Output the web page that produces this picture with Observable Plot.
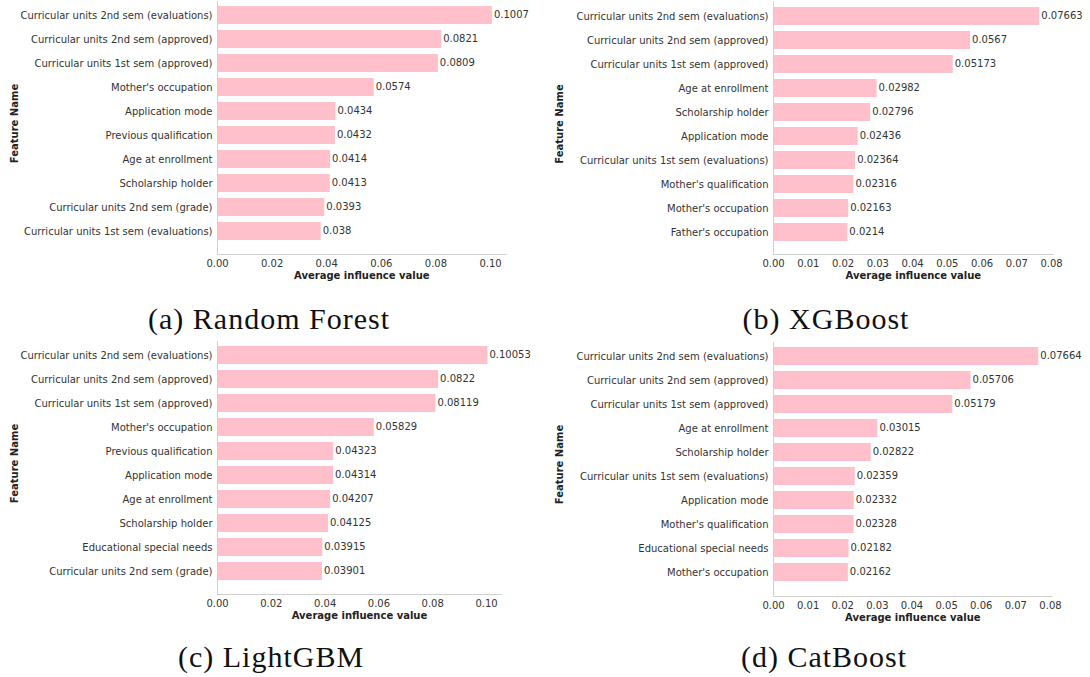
<!DOCTYPE html>
<html><head><meta charset="utf-8">
<script src="https://cdn.jsdelivr.net/npm/d3@7"></script>
<script src="https://cdn.jsdelivr.net/npm/@observablehq/plot@0.6"></script>
<style>
body{margin:0;background:#fff;}
#wrap{position:relative;width:1090px;height:677px;overflow:hidden;background:#fff;}
.panel{position:absolute;}
.cap{position:absolute;font-family:"Liberation Serif",serif;font-size:30px;letter-spacing:1px;color:#111;white-space:nowrap;transform:translate(-50%,-50%);line-height:1;}
</style></head><body><div id="wrap"></div>
<script>
// ---- Data ----
const rfFeatures = ["Curricular units 2nd sem (evaluations)","Curricular units 2nd sem (approved)","Curricular units 1st sem (approved)","Mother's occupation","Application mode","Previous qualification","Age at enrollment","Scholarship holder","Curricular units 2nd sem (grade)","Curricular units 1st sem (evaluations)"];
const rfValues = [0.1007,0.0821,0.0809,0.0574,0.0434,0.0432,0.0414,0.0413,0.0393,0.038];

const xgbFeatures = ["Curricular units 2nd sem (evaluations)","Curricular units 2nd sem (approved)","Curricular units 1st sem (approved)","Age at enrollment","Scholarship holder","Application mode","Curricular units 1st sem (evaluations)","Mother's qualification","Mother's occupation","Father's occupation"];
const xgbValues = [0.07663,0.0567,0.05173,0.02982,0.02796,0.02436,0.02364,0.02316,0.02163,0.0214];

const lgbmFeatures = ["Curricular units 2nd sem (evaluations)","Curricular units 2nd sem (approved)","Curricular units 1st sem (approved)","Mother's occupation","Previous qualification","Application mode","Age at enrollment","Scholarship holder","Educational special needs","Curricular units 2nd sem (grade)"];
const lgbmValues = [0.10053,0.0822,0.08119,0.05829,0.04323,0.04314,0.04207,0.04125,0.03915,0.03901];

const cbFeatures = ["Curricular units 2nd sem (evaluations)","Curricular units 2nd sem (approved)","Curricular units 1st sem (approved)","Age at enrollment","Scholarship holder","Curricular units 1st sem (evaluations)","Application mode","Mother's qualification","Educational special needs","Mother's occupation"];
const cbValues = [0.07664,0.05706,0.05179,0.03015,0.02822,0.02359,0.02332,0.02328,0.02182,0.02162];

const ticksTenth = [0,0.02,0.04,0.06,0.08,0.10];
const ticksEighth = [0,0.01,0.02,0.03,0.04,0.05,0.06,0.07,0.08];

const captions = ["(a) Random Forest","(b) XGBoost","(c) LightGBM","(d) CatBoost"];
const xTitle = "Average influence value";
const yTitle = "Feature Name";

// ---- Layout ----
const panels = [
  {features: rfFeatures, values: rfValues, ticks: ticksTenth, left:0, top:0, h:300, spine:217, ppu:2730, firstRow:15, axisBottom:254, caption:captions[0], capX:269, capY:319},
  {features: xgbFeatures, values: xgbValues, ticks: ticksEighth, left:545, top:0, h:300, spine:773, ppu:3475, firstRow:15.5, axisBottom:254, caption:captions[1], capX:826, capY:319},
  {features: lgbmFeatures, values: lgbmValues, ticks: ticksTenth, left:0, top:330, h:347, spine:217, ppu:2690, firstRow:355, axisBottom:594, caption:captions[2], capX:271, capY:657},
  {features: cbFeatures, values: cbValues, ticks: ticksEighth, left:545, top:330, h:347, spine:773, ppu:3462, firstRow:356, axisBottom:596, caption:captions[3], capX:824, capY:657}
];

const wrap = document.getElementById("wrap");
const step = 24.1;

for (const p of panels) {
  const data = p.features.map((f, i) => ({feature: f, value: p.values[i]}));
  const width = 545;
  const xMax = d3.max(p.values) * 1.05;
  const marginLeft = p.spine - p.left;
  const marginRight = width - marginLeft - xMax * p.ppu;
  const c0 = p.firstRow - p.top;
  const marginTop = c0 - 14;
  const marginBottom = p.h - (p.axisBottom - p.top);
  const frameCenter = (marginTop + (p.h - marginBottom)) / 2;
  const featureY = c0 + 108;

  const chart = Plot.plot({
    width, height: p.h, marginLeft, marginRight, marginTop, marginBottom,
    style: {fontFamily: "DejaVu Sans", fontSize: "10px", color: "#333", background: "transparent", overflow: "visible"},
    x: {domain: [0, xMax], ticks: p.ticks, tickFormat: d3.format(".2f"), tickSize: 0, tickPadding: 5, label: null},
    y: {domain: p.features, range: [c0 - step / 2, c0 + 9.5 * step], paddingInner: 0.25, paddingOuter: 0.125, tickSize: 0, tickPadding: 5, label: null},
    marks: [
      Plot.barX(data, {x: "value", y: "feature", fill: "pink"}),
      Plot.text(data, {x: "value", y: "feature", text: d => String(d.value), textAnchor: "start", dx: 1.5, dy: -1, fill: "#333"}),
      Plot.ruleX([0], {stroke: "#d0d0d0"}),
      Plot.frame({anchor: "bottom", stroke: "#d0d0d0"}),
      Plot.text([xTitle], {text: d => d, frameAnchor: "bottom", dy: 21, lineAnchor: "middle", fontWeight: "bold", fill: "#222"}),
      Plot.text([yTitle], {text: d => d, frameAnchor: "left", textAnchor: "middle", lineAnchor: "middle", dx: 14 - marginLeft, dy: featureY - frameCenter, rotate: -90, fontWeight: "bold", fill: "#222"})
    ]
  });
  chart.classList.add("panel");
  chart.style.left = p.left + "px";
  chart.style.top = p.top + "px";
  wrap.appendChild(chart);

  const cap = document.createElement("div");
  cap.className = "cap";
  cap.textContent = p.caption;
  cap.style.left = p.capX + "px";
  cap.style.top = p.capY + "px";
  wrap.appendChild(cap);
}
</script></body></html>
